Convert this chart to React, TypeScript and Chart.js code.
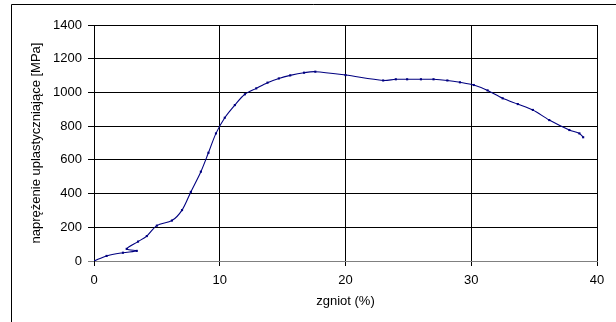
import React, { useEffect, useRef } from "react";
import { Chart, registerables } from "chart.js";

Chart.register(...registerables);

const strainPct = [0, 1.0, 2.3, 3.4, 2.6, 3.5, 4.2, 5.0, 6.2, 7.0, 7.7, 8.5, 9.1, 9.7, 10.4, 11.2, 12.0, 12.9, 13.8, 14.7, 15.6, 16.7, 17.6, 20.0, 23.0, 24.0, 24.9, 26.0, 27.0, 28.1, 29.1, 30.2, 31.3, 32.5, 33.7, 34.9, 36.2, 37.8, 38.6, 38.9];
const stressMPa = [0, 30, 49, 60, 72, 115, 148, 210, 240, 302, 410, 530, 642, 757, 850, 925, 989, 1024, 1058, 1083, 1101, 1117, 1123, 1103, 1071, 1078, 1078, 1078, 1078, 1071, 1060, 1044, 1012, 965, 931, 896, 836, 777, 757, 734];

const xAxisTitle = "zgniot (%)";
const yAxisTitle = "naprężenie uplastyczniające [MPa]";
const xMin = 0, xMax = 40, xStep = 10;
const yMin = 0, yMax = 1400, yStep = 200;

const FONT = "'Liberation Sans', Arial, sans-serif";

const framePlugin = {
  id: "outerFrame",
  beforeDraw(chart: any) {
    const ctx = chart.ctx;
    ctx.save();
    ctx.fillStyle = "#fff";
    ctx.fillRect(0, 0, chart.width, chart.height);
    ctx.strokeStyle = "#000";
    ctx.lineWidth = 1;
    ctx.beginPath();
    ctx.moveTo(11.5, chart.height);
    ctx.lineTo(11.5, 4.5);
    ctx.lineTo(chart.width, 4.5);
    ctx.stroke();
    ctx.restore();
  },
};

export default function App() {
  const ref = useRef<HTMLCanvasElement | null>(null);
  useEffect(() => {
    if (!ref.current) return;
    const data = strainPct.map((x, i) => ({ x, y: stressMPa[i] }));
    const chart = new Chart(ref.current, {
      type: "line",
      data: {
        datasets: [
          {
            data,
            borderColor: "#000080",
            backgroundColor: "#000080",
            borderWidth: 1.1,
            pointStyle: "rect",
            pointRadius: 1.5,
            pointBorderWidth: 0,
            tension: 0.3,
            fill: false,
          },
        ],
      },
      options: {
        animation: false,
        responsive: false,
        layout: { padding: { left: 12, right: 19, top: 25, bottom: 0 } },
        plugins: { legend: { display: false }, tooltip: { enabled: false } },
        scales: {
          x: {
            type: "linear",
            min: xMin,
            max: xMax,
            ticks: { stepSize: xStep, color: "#000", padding: 7, font: { family: FONT, size: 13 }, callback: (v: any) => String(v) },
            grid: { color: "#000", tickLength: 5, lineWidth: 1 },
            border: { color: "#808080", width: 1 },
            title: { display: true, text: xAxisTitle, color: "#000", font: { family: FONT, size: 13 }, padding: { top: 0, bottom: 13 } },
            afterFit: (s: any) => { s.height = 61; },
          },
          y: {
            type: "linear",
            min: yMin,
            max: yMax,
            ticks: { stepSize: yStep, color: "#000", padding: 6, font: { family: FONT, size: 13 }, callback: (v: any) => String(v) },
            grid: {
              color: (c: any) => (c.tick && c.tick.value === 0 ? "#808080" : "#000"),
              tickLength: 6,
              lineWidth: 1,
            },
            border: { color: "#000", width: 1 },
            title: { display: true, text: yAxisTitle, color: "#000", font: { family: FONT, size: 13 }, padding: { top: 17, bottom: 0 } },
            afterFit: (s: any) => { s.width = 82; },
          },
        },
      },
      plugins: [framePlugin],
    });
    return () => chart.destroy();
  }, []);
  return (
    <div style={{ position: "fixed", left: 0, top: 0, width: 616, height: 322, background: "#fff" }}>
      <canvas ref={ref} width={616} height={322} style={{ display: "block", width: 616, height: 322 }} />
    </div>
  );
}
